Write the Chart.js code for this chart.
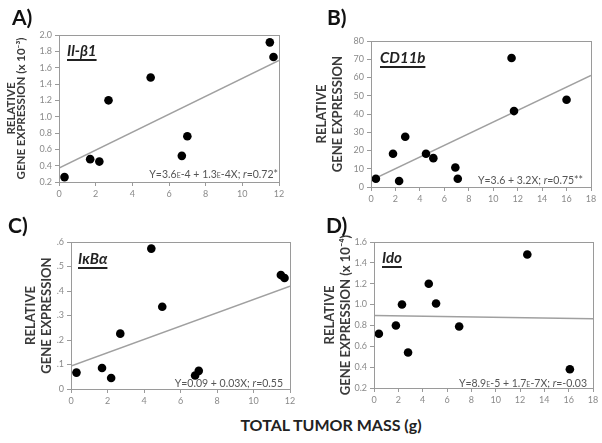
<!DOCTYPE html>
<html>
<head>
<meta charset="utf-8">
<script src="https://cdn.jsdelivr.net/npm/chart.js@4.4.0/dist/chart.umd.min.js"></script>
<style>
  body { margin: 0; background: #fff; font-family: Lato, "Open Sans", sans-serif; }
  #page { position: relative; width: 602px; height: 443px; overflow: hidden; }
  .panel { position: absolute; }
  .tag { position: absolute; font-weight: bold; font-size: 21px; line-height: 22px; color: #111; }
  .gene { position: absolute; font-weight: bold; font-style: italic; font-size: 15px; line-height: 16px; color: #222;
          text-decoration: underline; text-decoration-thickness: 2px; text-underline-offset: 3px; }
  .eq { position: absolute; font-size: 10.5px; line-height: 12px; color: #555; white-space: nowrap; }
  .eq .e { font-variant: small-caps; }
  .xtitle { position: absolute; left: 200px; width: 262px; top: 416px; text-align: center;
            font-weight: bold; font-size: 16px; line-height: 18px; color: #222; }
</style>
</head>
<body>
<div id="page">
  <div class="panel" style="left:0;top:0;width:300px;height:210px"><canvas id="chart-a"></canvas></div>
  <div class="panel" style="left:300px;top:0;width:302px;height:210px"><canvas id="chart-b"></canvas></div>
  <div class="panel" style="left:0;top:210px;width:300px;height:200px"><canvas id="chart-c"></canvas></div>
  <div class="panel" style="left:300px;top:210px;width:302px;height:200px"><canvas id="chart-d"></canvas></div>

  <div class="tag" style="left:12px;top:6px">A)</div>
  <div class="tag" style="left:327px;top:6px">B)</div>
  <div class="tag" style="left:8px;top:214px">C)</div>
  <div class="tag" style="left:326px;top:214px">D)</div>

  <div class="gene" style="left:67px;top:42px">Il-β1</div>
  <div class="gene" style="left:380px;top:49px">CD11b</div>
  <div class="gene" style="left:78px;top:250px">IκBα</div>
  <div class="gene" style="left:382px;top:249px">Ido</div>

  <div class="eq" style="right:324px;top:168px">Y=3.6<span class="e">e</span>-4 + 1.3<span class="e">e</span>-4X; <i>r</i>=0.72*</div>
  <div class="eq" style="right:19px;top:174px">Y=3.6 + 3.2X; <i>r</i>=0.75**</div>
  <div class="eq" style="right:319px;top:377px">Y=0.09 + 0.03X; <i>r</i>=0.55</div>
  <div class="eq" style="right:15px;top:377px">Y=8.9<span class="e">e</span>-5 + 1.7<span class="e">e</span>-7X; <i>r</i>=-0.03</div>

  <div class="xtitle">TOTAL TUMOR MASS (g)</div>
</div>

<script>
// A) Il-β1 (x10^-3)
const aMass = [0.3, 1.7, 2.2, 2.7, 5.0, 6.7, 7.0, 11.5, 11.7];
const aExpr = [0.26, 0.48, 0.45, 1.2, 1.48, 0.52, 0.76, 1.91, 1.73];
const aFitX = [0, 12];
const aFitY = [0.37, 1.69];

// B) CD11b
const bMass = [0.4, 1.8, 2.3, 2.8, 4.5, 5.1, 6.9, 7.1, 11.5, 11.7, 16.0];
const bExpr = [4.5, 18.2, 3.3, 27.5, 18.2, 15.8, 10.7, 4.5, 70.7, 41.6, 47.8];
const bFitX = [0, 18];
const bFitY = [3.6, 61.2];

// C) IκBα
const cMass = [0.3, 1.7, 2.2, 2.7, 4.4, 5.0, 6.8, 7.0, 11.5, 11.7];
const cExpr = [0.067, 0.086, 0.045, 0.226, 0.573, 0.336, 0.055, 0.074, 0.465, 0.453];
const cFitX = [0, 12];
const cFitY = [0.094, 0.42];

// D) Ido (x10^-4)
const dMass = [0.4, 1.8, 2.3, 2.8, 4.5, 5.1, 7.0, 12.6, 16.1];
const dExpr = [0.72, 0.80, 1.0, 0.54, 1.2, 1.01, 0.79, 1.48, 0.38];
const dFitX = [0, 18];
const dFitY = [0.896, 0.865];

// axis titles
const aYTitle = ['RELATIVE', 'GENE EXPRESSION (x 10⁻³)'];
const plainYTitle = ['RELATIVE', 'GENE EXPRESSION'];
const dYTitle = ['RELATIVE', 'GENE EXPRESSION (x 10⁻⁴)'];

const toPoints = (xs, ys) => xs.map((x, i) => ({ x, y: ys[i] }));

// box around the plotting area
const framePlugin = {
  id: 'frame',
  afterDatasetsDraw(chart) {
    const { ctx, chartArea: a } = chart;
    ctx.save();
    ctx.strokeStyle = '#9a9a9a';
    ctx.lineWidth = 1;
    ctx.strokeRect(a.left + 0.5, a.top + 0.5, a.right - a.left, a.bottom - a.top);
    ctx.restore();
  }
};

/**
 * Build one scatter panel; area = plot rectangle inside its canvas
 */
function buildPanel(id, opt) {
  const el = document.getElementById(id);
  const box = el.parentElement;
  const w = box.clientWidth, h = box.clientHeight;
  const xAxisH = 20;
  const area = opt.area;

  return new Chart(el, {
    type: 'scatter',
    data: {
      datasets: [
        {
          data: toPoints(opt.mass, opt.expr),
          backgroundColor: '#000',
          borderWidth: 0,
          pointRadius: 4.3
        },
        {
          data: toPoints(opt.fitX, opt.fitY),
          showLine: true,
          borderColor: '#a0a0a0',
          borderWidth: 1.5,
          pointRadius: 0
        }
      ]
    },
    options: {
      responsive: true,
      maintainAspectRatio: false,
      animation: false,
      layout: {
        autoPadding: false,
        padding: { left: 0, top: area.top, right: w - area.right, bottom: h - area.bottom - xAxisH }
      },
      plugins: { legend: { display: false }, tooltip: { enabled: false } },
      scales: {
        x: {
          type: 'linear',
          min: opt.xMin, max: opt.xMax,
          afterFit: s => { s.height = xAxisH; },
          border: { display: false },
          grid: { drawOnChartArea: false, tickLength: 4, color: '#9a9a9a' },
          ticks: { stepSize: 2, autoSkip: false, maxRotation: 0, padding: 3,
                   color: '#8a8a8a', font: { family: 'Lato', size: 9 } }
        },
        y: {
          min: opt.yMin, max: opt.yMax,
          afterFit: s => { s.width = area.left; },
          border: { display: false },
          grid: { drawOnChartArea: false, tickLength: 4, color: '#9a9a9a' },
          ticks: { stepSize: opt.yStep, autoSkip: false, padding: 3, callback: opt.yFormat,
                   color: '#8a8a8a', font: { family: 'Lato', size: 9 } },
          title: {
            display: true,
            text: opt.yTitle,
            color: '#3a3a3a',
            padding: { top: opt.titlePad, bottom: 0 },
            font: { family: 'Lato', size: opt.titleSize, weight: 'bold', lineHeight: opt.titleLine + 'px' }
          }
        }
      }
    },
    plugins: [framePlugin]
  });
}

const oneDecimal = v => v.toFixed(1);

buildPanel('chart-a', {
  mass: aMass, expr: aExpr, fitX: aFitX, fitY: aFitY,
  xMin: 0, xMax: 12, yMin: 0.2, yMax: 2.0, yStep: 0.2, yFormat: oneDecimal,
  yTitle: aYTitle, titlePad: 6, titleLine: 10.5, titleSize: 11.5,
  area: { left: 59, top: 35, right: 279, bottom: 182 }
});

buildPanel('chart-b', {
  mass: bMass, expr: bExpr, fitX: bFitX, fitY: bFitY,
  xMin: 0, xMax: 18, yMin: 0, yMax: 80, yStep: 10, yFormat: v => String(v),
  yTitle: plainYTitle, titlePad: 14, titleLine: 16, titleSize: 13,
  area: { left: 71, top: 41, right: 291, bottom: 187 }
});

buildPanel('chart-c', {
  mass: cMass, expr: cExpr, fitX: cFitX, fitY: cFitY,
  xMin: 0, xMax: 12, yMin: 0, yMax: 0.6, yStep: 0.1,
  yFormat: v => (v === 0 ? '0' : '.' + Math.round(v * 10)),
  yTitle: plainYTitle, titlePad: 23, titleLine: 16, titleSize: 13,
  area: { left: 71, top: 32, right: 290, bottom: 179 }
});

buildPanel('chart-d', {
  mass: dMass, expr: dExpr, fitX: dFitX, fitY: dFitY,
  xMin: 0, xMax: 18, yMin: 0.2, yMax: 1.6, yStep: 0.2, yFormat: oneDecimal,
  yTitle: dYTitle, titlePad: 22, titleLine: 16, titleSize: 13,
  area: { left: 74, top: 32, right: 293, bottom: 178 }
});
</script>
</body>
</html>
